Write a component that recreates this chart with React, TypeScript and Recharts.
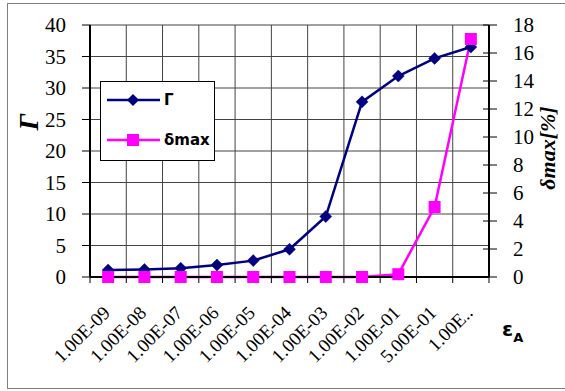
import React from 'react';
import { ComposedChart, Line, XAxis, YAxis, CartesianGrid, Legend } from 'recharts';

const categories = ['1.00E-09', '1.00E-08', '1.00E-07', '1.00E-06', '1.00E-05', '1.00E-04', '1.00E-03', '1.00E-02', '1.00E-01', '5.00E-01', '1.00E..'];
const gammaValues = [1.1, 1.2, 1.4, 1.9, 2.6, 4.4, 9.6, 27.8, 31.9, 34.7, 36.5];
const deltaValues = [0, 0, 0, 0, 0, 0, 0, 0, 0.2, 5.0, 17.0];
const leftTicks = [0, 5, 10, 15, 20, 25, 30, 35, 40];
const rightTicks = [0, 2, 4, 6, 8, 10, 12, 14, 16, 18];

const data = categories.map((c, i) => ({ cat: c, gamma: gammaValues[i], delta: deltaValues[i] }));

const NAVY = '#000080';
const MAGENTA = '#FF00FF';
const SERIF = 'Liberation Serif';
const SANS = 'DejaVu Sans';

const Diamond = (props: any) => {
  const { cx, cy } = props;
  if (cx == null || cy == null) return null;
  const r = 6;
  return <polygon points={`${cx},${cy - r} ${cx + r},${cy} ${cx},${cy + r} ${cx - r},${cy}`} fill={NAVY} stroke={NAVY} strokeWidth={0.5} />;
};

const Square = (props: any) => {
  const { cx, cy } = props;
  if (cx == null || cy == null) return null;
  const s = 6;
  return <rect x={cx - s} y={cy - s} width={2 * s} height={2 * s} fill={MAGENTA} />;
};

const XTick = (props: any) => {
  const { x, y, payload, index, width } = props;
  const half = width / categories.length / 2;
  return (
    <g>
      <line x1={x + half} x2={x + half} y1={y} y2={y + 6} stroke="#000" strokeWidth={1} />
      {index === 0 ? <line x1={x - half} x2={x - half} y1={y} y2={y + 6} stroke="#000" strokeWidth={1} /> : null}
      <g transform={`translate(${x + 3},${y + 37})`}>
        <text x={0} y={0} textAnchor="end" transform="rotate(-45)" fontFamily={SERIF} fontSize={19} fill="#000">
          {payload.value}
        </text>
      </g>
    </g>
  );
};

const YTick = (props: any) => {
  const { x, y, payload, textAnchor } = props;
  return (
    <text x={x} y={y} dy={7} textAnchor={textAnchor} fontFamily={SERIF} fontSize={21} fill="#000">
      {payload.value}
    </text>
  );
};

const RightYTick = (props: any) => {
  const { x, y, payload } = props;
  const axisX = x - 24;
  return (
    <g>
      <line x1={axisX - 6} x2={axisX + 8} y1={y} y2={y} stroke="#000" strokeWidth={1} />
      <text x={x} y={y} dy={7} textAnchor="start" fontFamily={SERIF} fontSize={21} fill="#000">
        {payload.value}
      </text>
    </g>
  );
};

const LegendContent = () => {
  const rows = [
    { name: 'Γ', color: NAVY, shape: 'diamond' },
    { name: 'δmax', color: MAGENTA, shape: 'square' },
  ];
  return (
    <svg width={115} height={80} style={{ display: 'block' }}>
      <rect x={0.5} y={0.5} width={114} height={79} fill="#fff" stroke="#000" strokeWidth={1} />
      {rows.map((r, i) => {
        const cy = 19 + i * 40;
        return (
          <g key={r.name}>
            <line x1={7} x2={60} y1={cy} y2={cy} stroke={r.color} strokeWidth={2.5} />
            {r.shape === 'diamond' ? (
              <polygon points={`33,${cy - 6} 39,${cy} 33,${cy + 6} 27,${cy}`} fill={r.color} />
            ) : (
              <rect x={27} y={cy - 6} width={12} height={12} fill={r.color} />
            )}
            <text x={64} y={cy + 5} fontFamily={SANS} fontWeight="bold" fontSize={15} fill="#000">{r.name}</text>
          </g>
        );
      })}
    </svg>
  );
};

const LeftLabel = (props: any) => {
  const { viewBox } = props;
  const cx = viewBox.x + 28;
  const cy = viewBox.y + 97;
  return (
    <text x={cx} y={cy} transform={`rotate(-90, ${cx}, ${cy})`} textAnchor="middle" dominantBaseline="central" fontFamily={SERIF} fontStyle="italic" fontWeight="bold" fontSize={28} fill="#000">Γ</text>
  );
};

const RightLabel = (props: any) => {
  const { viewBox } = props;
  const cx = viewBox.x + 58;
  const cy = viewBox.y + 123;
  return (
    <text x={cx} y={cy} transform={`rotate(-90, ${cx}, ${cy})`} textAnchor="middle" dominantBaseline="central" fontFamily={SERIF} fontStyle="italic" fontWeight="bold" fontSize={22} fill="#000">δmax[%]</text>
  );
};

const XLabel = (props: any) => {
  const { viewBox } = props;
  const x = viewBox.x + viewBox.width + 13;
  const y = viewBox.y + 59;
  return (
    <text x={x} y={y} fontFamily={SANS} fontWeight="bold" fontSize={20} fill="#000">
      ε<tspan fontSize={13} dy={6}>A</tspan>
    </text>
  );
};

export default function App() {
  return (
    <div style={{ position: 'absolute', left: 0, top: 0, width: 565, height: 391, background: '#fff' }}>
      <svg width={565} height={391} style={{ position: 'absolute', left: 0, top: 0 }}>
        <rect x={7.5} y={3.5} width={600} height={385} fill="#fff" stroke="#808080" strokeWidth={1} />
      </svg>
      <div style={{ position: 'absolute', left: 0, top: 0 }}>
        <ComposedChart width={565} height={391} data={data} margin={{ top: 25, right: 0, bottom: 0, left: 0 }}>
          <CartesianGrid
            yAxisId="left"
            stroke="#444"
            strokeWidth={1}
            horizontalValues={leftTicks}
            verticalCoordinatesGenerator={({ offset }: any) =>
              categories.map((_, i) => offset.left + (i * offset.width) / categories.length).concat([offset.left + offset.width])
            }
          />
          <XAxis
            dataKey="cat"
            scale="band"
            interval={0}
            height={114}
            tickLine={false}
            tickSize={0}
            tickMargin={0}
            axisLine={{ stroke: '#000', strokeWidth: 2 }}
            tick={<XTick />}
            label={{ content: <XLabel /> }}
          />
          <YAxis
            yAxisId="left"
            orientation="left"
            width={90}
            domain={[0, 40]}
            ticks={leftTicks}
            interval={0}
            tickSize={8}
            tickMargin={16}
            axisLine={{ stroke: '#000', strokeWidth: 2 }}
            tickLine={{ stroke: '#000' }}
            tick={<YTick />}
            label={{ content: <LeftLabel /> }}
          />
          <YAxis
            yAxisId="right"
            orientation="right"
            width={76}
            domain={[0, 18]}
            ticks={rightTicks}
            interval={0}
            tickSize={8}
            tickMargin={16}
            axisLine={{ stroke: '#000', strokeWidth: 2 }}
            tickLine={false}
            tick={<RightYTick />}
            label={{ content: <RightLabel /> }}
          />
          <Legend
            layout="vertical"
            align="center"
            verticalAlign="middle"
            content={<LegendContent />}
            wrapperStyle={{ position: 'absolute', left: 100, top: 81, width: 115, height: 80 }}
          />
          <Line yAxisId="left" dataKey="gamma" name="Γ" stroke={NAVY} strokeWidth={2.5} dot={<Diamond />} isAnimationActive={false} />
          <Line yAxisId="right" dataKey="delta" name="δmax" stroke={MAGENTA} strokeWidth={2.5} dot={<Square />} isAnimationActive={false} />
        </ComposedChart>
      </div>
    </div>
  );
}
